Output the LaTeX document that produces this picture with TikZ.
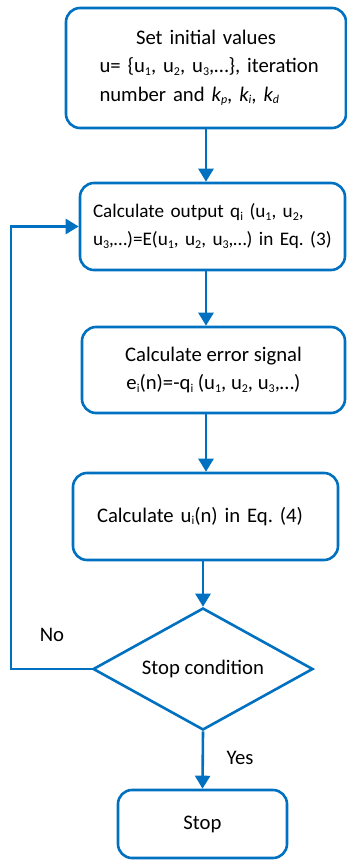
\documentclass[tikz,border=0pt]{standalone}
\usepackage{fontspec}
\setmainfont{Carlito}
\usetikzlibrary{shapes.geometric, arrows.meta}
\definecolor{flowblue}{RGB}{0,112,192}
\frenchspacing
\newcommand{\lrow}[1]{\makebox[\hsize][l]{#1}}
\newcommand{\lsub}[1]{\raisebox{-0.12em}{\fontsize{12}{12}\selectfont #1}}
\tikzset{>={Triangle[width=15pt,length=13pt]}}
\tikzset{
  flowtext/.style={font=\fontsize{20.7}{28.5}\selectfont},
  smalltext/.style={font=\fontsize{19.2}{28}\selectfont},
  flowbox/.style={draw=flowblue, line width=2.6pt, rounded corners=14pt, inner sep=0pt, flowtext},
  flowdec/.style={draw=flowblue, line width=2.6pt, diamond, aspect=1.8, inner sep=0pt,
    minimum width=220pt, minimum height=122pt, flowtext},
  flowline/.style={flowblue, line width=2.6pt, ->}
}

\begin{document}
\begin{tikzpicture}[x=1pt, y=-1pt]
\useasboundingbox (0,0) rectangle (347,861);

\node[flowbox, minimum width=280pt, minimum height=120pt, text width=213pt, align=left] (init) at (206,68)
  {\makebox[\hsize]{Set initial values}\\
   \lrow{u= \{u\lsub{1}, u\lsub{2}, u\lsub{3},…\}, iteration}\\
   \lrow{number and \textit{k\lsub{p}}, \textit{k\lsub{i}}, \textit{k\lsub{d}}}};
\node[flowbox, smalltext, minimum width=265pt, minimum height=87pt, text width=239pt, align=left] (output) at (212.5,226.5)
  {\lrow{Calculate output q\lsub{i} (u\lsub{1}, u\lsub{2},}\\
   \lrow{u\lsub{3},…)=E(u\lsub{1}, u\lsub{2}, u\lsub{3},…) in Eq. (3)}};
\node[flowbox, minimum width=263pt, minimum height=86pt, align=center] (error) at (213.5,370)
  {Calculate error signal\\
   e\lsub{i}(n)=-q\lsub{i} (u\lsub{1}, u\lsub{2}, u\lsub{3},…)};
\node[flowbox, minimum width=265pt, minimum height=87pt, text width=217pt, align=left] (update) at (205.5,516.5)
  {\lrow{Calculate u\lsub{i}(n) in Eq. (4)}};
\node[flowdec] (check) at (203,669) {Stop condition};
\node[flowbox, minimum width=169pt, minimum height=68pt] (stop) at (202.5,824) {Stop};

\node[flowtext] (no) at (52,635) {No};
\node[flowtext] (yes) at (240,758) {Yes};
\coordinate (loop) at (11,669);

\draw[flowline] (init.south) -- (init.south |- output.north);
\draw[flowline] (init.south |- output.south) -- (init.south |- error.north);
\draw[flowline] (init.south |- error.south) -- (init.south |- update.north);
\draw[flowline] (check.north |- update.south) -- (check.north);
\draw[flowline] (check.south) -- (stop.north);
\draw[flowline] (check.west) -- (loop) |- (output.west);
\end{tikzpicture}
\end{document}
